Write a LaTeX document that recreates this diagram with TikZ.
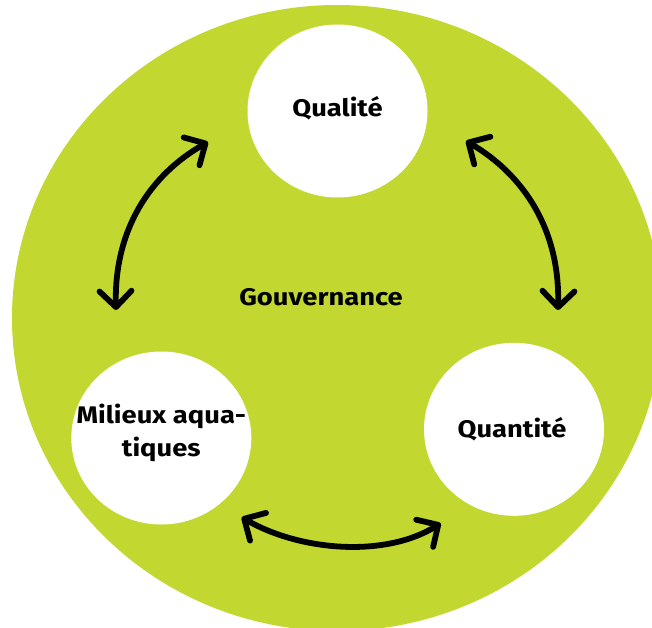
\documentclass[tikz,border=0pt]{standalone}
\usepackage{fontspec}
\setmainfont{Fira Sans}[FakeStretch=1.14]
\usetikzlibrary{arrows.meta,shapes.geometric}
\definecolor{govgreen}{RGB}{194,216,48}
\tikzset{
  bubble/.style={ellipse, fill=white, minimum width=180pt, minimum height=173pt, inner sep=0pt},
  lbl/.style={inner sep=0pt, align=center, font=\fontsize{24}{33}\selectfont\bfseries},
  dblarrow/.style={line width=5.8pt, line cap=round,
    {Straight Barb[length=16pt,width=32pt,line cap=round,line join=round]}-{Straight Barb[length=16pt,width=32pt,line cap=round,line join=round]}}
}
\begin{document}
\begin{tikzpicture}[x=1pt,y=-1pt]
\useasboundingbox (0,0) rectangle (652,627);
\clip (0,0) rectangle (652,627);
\fill[white] (0,0) rectangle (652,627);
\node[ellipse, fill=govgreen, minimum width=650pt, minimum height=626pt, inner sep=0pt] (gov) at (337,318) {};
\node[bubble, label={[lbl, yshift=3pt]center:Qualité}] (qual) at (337.5,111) {};
\node[bubble, label={[lbl, xshift=-2pt]center:Quantité}] (quant) at (514,429.3) {};
\node[bubble, label={[lbl, yshift=5.5pt]center:Milieux aqua-\\tiques}] (mil) at (161.3,438) {};
\node[lbl] (govtext) at (321,297) {Gouvernance};
\coordinate (l1) at (116,310);
\coordinate (l2) at (208,142);
\coordinate (r1) at (558,310);
\coordinate (r2) at (466,141);
\coordinate (b1) at (241.7,517.3);
\coordinate (b2) at (440.7,523.3);
\draw[dblarrow] (l1) .. controls (114,230) and (150,175) .. (l2);
\draw[dblarrow] (r1) .. controls (560,230) and (524,175) .. (r2);
\draw[dblarrow] (b1) .. controls (300,551) and (385,558) .. (b2);
\end{tikzpicture}
\end{document}
